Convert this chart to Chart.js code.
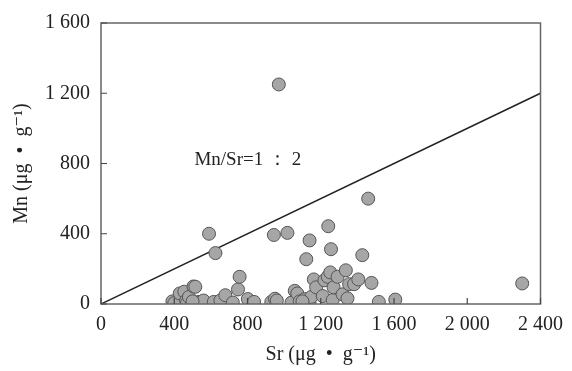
<!DOCTYPE html>
<html>
<head>
<meta charset="utf-8">
<script src="https://cdn.jsdelivr.net/npm/chart.js@4"></script>
<style>
  html, body { margin: 0; padding: 0; background: #fff; }
  #wrap { width: 572px; height: 371px; }
</style>
</head>
<body>
<div id="wrap"><canvas id="chart"></canvas></div>
<script>
// Sr vs Mn (ug/g)
const srValues = [390, 400, 430, 455, 465, 470, 480, 505, 515, 535, 545, 560, 590, 616, 625, 652, 679, 720, 748, 757,
  802, 836, 930, 944, 950, 960, 971, 1018, 1040, 1058, 1072, 1085, 1112, 1121, 1139, 1139, 1148, 1162, 1175, 1211,
  1220, 1238, 1241, 1252, 1256, 1265, 1270, 1292, 1319, 1337, 1346, 1355, 1382, 1405, 1427, 1459, 1477, 1517, 1607, 2300,
  1100, 500];
const mnValues = [15, 5, 60, 70, 20, 5, 40, 100, 98, 12, 10, 20, 400, 12, 290, 20, 50, 8, 83, 155,
  28, 12, 12, 393, 30, 20, 1250, 405, 8, 75, 60, 15, 28, 255, 362, 5, 40, 140, 95, 45,
  135, 155, 443, 180, 312, 22, 95, 155, 55, 192, 32, 113, 113, 140, 278, 600, 120, 12, 25, 117,
  15, 15];
// Mn/Sr = 1:2 reference line
const ratioLineX = [0, 2400];
const ratioLineY = [0, 1200];
const xTicks = [0, 400, 800, 1200, 1600, 2000, 2400];
const yTicks = [0, 400, 800, 1200, 1600];

const points = srValues.map((x, i) => ({ x: x, y: mnValues[i] }));
const linePts = ratioLineX.map((x, i) => ({ x: x, y: ratioLineY[i] }));

function fmt(v) {
  return v >= 1000 ? String(v).replace(/(\d)(\d{3})$/, "$1 $2") : String(v);
}

const serif = "'Liberation Serif', 'DejaVu Serif', serif";

// frame + inward ticks + ratio label
const framePlugin = {
  id: "frame",
  afterDraw(chart) {
    const ctx = chart.ctx;
    const a = chart.chartArea;
    const xs = chart.scales.x, ys = chart.scales.y;
    ctx.save();
    ctx.strokeStyle = "#666";
    ctx.lineWidth = 1.5;
    ctx.strokeRect(a.left, a.top, a.right - a.left, a.bottom - a.top);
    ctx.strokeStyle = "#444";
    ctx.lineWidth = 1.2;
    ctx.beginPath();
    xTicks.forEach(v => {
      const px = xs.getPixelForValue(v);
      ctx.moveTo(px, a.bottom);
      ctx.lineTo(px, a.bottom - 6);
    });
    yTicks.forEach(v => {
      const py = ys.getPixelForValue(v);
      ctx.moveTo(a.left, py);
      ctx.lineTo(a.left + 6, py);
    });
    ctx.stroke();
    ctx.fillStyle = "#222";
    ctx.font = "19px " + serif;
    ctx.textBaseline = "middle";
    ctx.fillText("Mn/Sr=1 \uFF1A 2", xs.getPixelForValue(510), ys.getPixelForValue(820));
    ctx.restore();
  }
};

new Chart(document.getElementById("chart"), {
  type: "scatter",
  data: {
    datasets: [
      {
        type: "line",
        data: linePts,
        borderColor: "#222",
        borderWidth: 1.5,
        pointRadius: 0,
        fill: false,
        order: 2
      },
      {
        data: points,
        backgroundColor: "#a6a6a6",
        borderColor: "#555",
        borderWidth: 1,
        pointRadius: 6.5,
        order: 1
      }
    ]
  },
  options: {
    responsive: true,
    maintainAspectRatio: false,
    animation: false,
    layout: { padding: { top: 20, right: 27, left: 0, bottom: 0 } },
    plugins: {
      legend: { display: false },
      tooltip: { enabled: false }
    },
    scales: {
      x: {
        type: "linear",
        min: 0,
        max: 2400,
        afterBuildTicks: s => { s.ticks = xTicks.map(v => ({ value: v })); },
        afterFit: s => { s.height = 67; },
        grid: { display: false, drawTicks: false },
        border: { display: false },
        ticks: {
          padding: 9,
          color: "#222",
          font: { family: serif, size: 20 },
          callback: v => fmt(v),
          maxRotation: 0
        },
        title: {
          display: true,
          text: "Sr (\u03BCg  \u2022  g\u207B\u00B9)",
          color: "#222",
          font: { family: serif, size: 20 },
          padding: { top: 0 }
        }
      },
      y: {
        type: "linear",
        min: 0,
        max: 1600,
        afterBuildTicks: s => { s.ticks = yTicks.map(v => ({ value: v })); },
        afterFit: s => { s.width = 101; },
        grid: { display: false, drawTicks: false },
        border: { display: false },
        ticks: {
          padding: 11,
          color: "#222",
          font: { family: serif, size: 20 },
          callback: v => fmt(v)
        },
        title: {
          display: true,
          text: "Mn (\u03BCg  \u2022  g\u207B\u00B9)",
          color: "#222",
          font: { family: serif, size: 20 },
          padding: { top: 10, bottom: 0 }
        }
      }
    }
  },
  plugins: [framePlugin]
});
</script>
</body>
</html>
